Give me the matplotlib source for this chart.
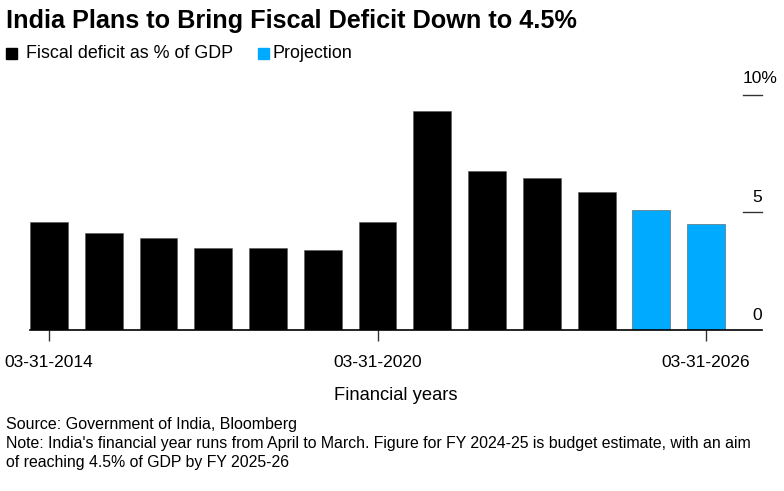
import matplotlib.pyplot as plt
from matplotlib.patches import Rectangle
from matplotlib.transforms import blended_transform_factory, offset_copy

plt.rcParams['font.family'] = ['Liberation Sans', 'DejaVu Sans']

years = ['03-31-2014', '03-31-2015', '03-31-2016', '03-31-2017', '03-31-2018',
         '03-31-2019', '03-31-2020', '03-31-2021', '03-31-2022', '03-31-2023',
         '03-31-2024', '03-31-2025', '03-31-2026']
deficit = [4.6, 4.1, 3.9, 3.5, 3.5, 3.4, 4.6, 9.3, 6.75, 6.45, 5.85, 5.1, 4.5]
is_projection = [False] * 11 + [True, True]
shown_ticks = [0, 6, 12]
y_ticks = [0, 5, 10]
y_labels = ['0', '5', '10%']

black = '#000000'
blue = '#00aaff'

W, H = 784, 491
fig = plt.figure(figsize=(W / 100, H / 100), dpi=100)

def fx(px):
    return px / W

def fy(py):
    return 1 - py / H

ax = fig.add_axes([fx(30), fy(330), fx(762) - fx(30), fy(80) - fy(330)])

x = list(range(len(years)))
colors = [blue if p else black for p in is_projection]
ax.bar(x, deficit, width=0.69, color=colors, edgecolor='#555555', linewidth=0.4)

ax.set_xlim(-0.347, 13.02)
ax.set_ylim(0, 10.62)

for s in ['top', 'right', 'left']:
    ax.spines[s].set_visible(False)
ax.spines['bottom'].set_linewidth(1.2)
ax.set_yticks([])
ax.set_xticks([x[i] for i in shown_ticks])
ax.set_xticklabels([years[i] for i in shown_ticks], fontsize=12.5)
ax.tick_params(axis='x', length=8, width=1, color='#333333', pad=10)
ax.set_xlabel('Financial years', fontsize=13.2, labelpad=12)

# right-side value labels with short dashes
tr = blended_transform_factory(ax.transAxes, ax.transData)
x0 = (743 - 30) / (762 - 30)
for v, lab in zip(y_ticks, y_labels):
    if v > 0:
        ax.plot([x0, 1.0], [v, v], color='#333333', lw=1, transform=tr, clip_on=False)
    if lab.endswith('%'):
        ax.text(x0, v, lab, transform=offset_copy(tr, fig=fig, x=0, y=6, units='points'),
                ha='left', va='bottom', fontsize=12.5)
    else:
        ax.text(1.0, v, lab, transform=offset_copy(tr, fig=fig, x=0, y=5, units='points'),
                ha='right', va='bottom', fontsize=12.5)

fig.text(fx(6), fy(21), 'India Plans to Bring Fiscal Deficit Down to 4.5%',
         fontsize=18.2, fontweight='bold', va='center', ha='left')

# legend
fig.patches.append(Rectangle((fx(6), fy(59)), fx(11), fy(48) - fy(59),
                             transform=fig.transFigure, color=black))
fig.text(fx(26), fy(53), 'Fiscal deficit as % of GDP', fontsize=12.9, va='center')
fig.patches.append(Rectangle((fx(258), fy(59)), fx(11), fy(48) - fy(59),
                             transform=fig.transFigure, color=blue))
fig.text(fx(273), fy(53), 'Projection', fontsize=12.9, va='center')

fig.text(fx(6), fy(424), 'Source: Government of India, Bloomberg', fontsize=11.5, va='center')
fig.text(fx(6), fy(453),
         "Note: India's financial year runs from April to March. Figure for FY 2024-25 is budget estimate, with an aim\n"
         "of reaching 4.5% of GDP by FY 2025-26",
         fontsize=11.4, va='center', linespacing=1.3)

fig.savefig('out.png', dpi=100)
